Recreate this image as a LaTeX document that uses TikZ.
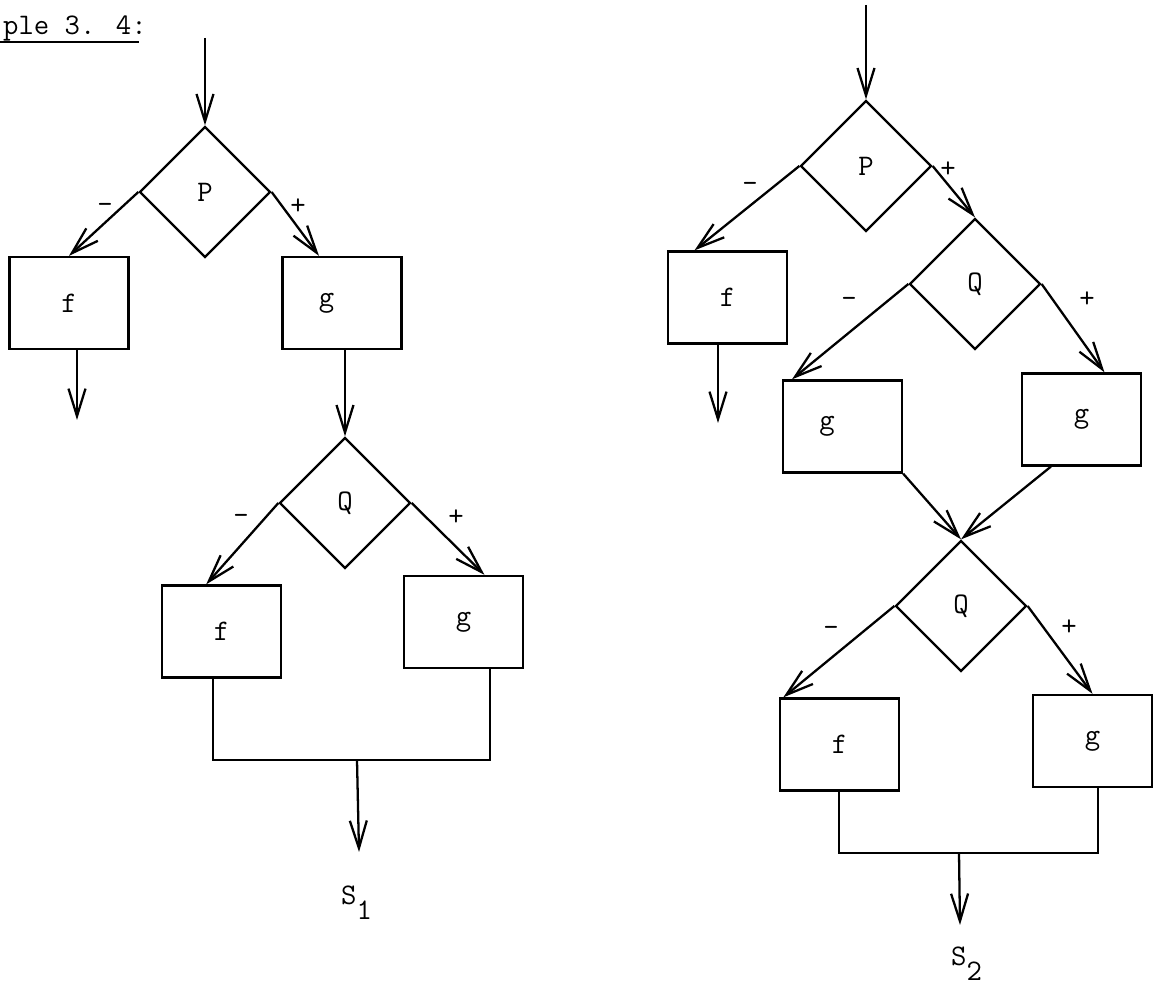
\documentclass[tikz,border=0pt]{standalone}
\usepackage{fontspec}
\usetikzlibrary{shapes.geometric,arrows.meta}

\begin{document}
\begin{tikzpicture}
  [x=0.02cm,y=0.02cm,font=\ttfamily\fontsize{17}{20}\selectfont]
      \tikzstyle{edge_style} = [draw=black, line width=1.3pt]
      \tikzstyle{arrow_style} = [edge_style, -{Straight Barb[length=5.5mm,width=3.4mm]}]
      \tikzstyle{box_style} = [draw=black, line width=1.3pt, rectangle, minimum width=2.38cm, minimum height=1.84cm]
      \tikzstyle{test_style} = [draw=black, line width=1.3pt, diamond, inner sep=0pt, minimum width=2.62cm, minimum height=2.62cm]
  \useasboundingbox (0,0) rectangle (1153,987);

  \node[anchor=base west] (title) at (-3,952) {ple 3. 4:};
  \draw[line width=1pt] ([yshift=-4pt]title.base west) -- ([xshift=-8pt,yshift=-4pt]title.base east);

  % first scheme
  \node[test_style] (p1) at (205,795) {P};
  \node[box_style] (f1) at (69,684) {f};
  \node[box_style] (g1) at (342,684) {g\phantom{gg}};
  \node[test_style] (q1) at (345,484) {Q};
  \node[box_style] (f2) at (221.5,355.5) {f};
  \node[box_style] (g2) at (463.5,365) {g};
  \node (m1) at (105,779) {-};
  \node (pl1) at (298,780) {+};
  \node (m2) at (241,468) {-};
  \node (pl2) at (456,469) {+};
  \node[anchor=base west] (s1) at (335,82) {S\raisebox{-.5em}{1}};
  \coordinate (in1) at (205,949);
  \coordinate (f1end) at (77,567);
  \coordinate (j1a) at (213,227);
  \coordinate (j1b) at (490,227);
  \coordinate (j1) at (357,227);
  \coordinate (s1end) at (359,135);

  \draw[arrow_style] (in1) -- (p1.north);
  \draw[arrow_style] (p1.west) -- (f1.north);
  \draw[arrow_style] (p1.east) -- (g1.116);
  \draw[arrow_style] (f1.south -| f1end) -- (f1end);
  \draw[arrow_style] (g1.south -| q1.north) -- (q1.north);
  \draw[arrow_style] (q1.west) -- (f2.108);
  \draw[arrow_style] (q1.east) -- (g2.66);
  \draw[edge_style] (f2.south -| j1a) -- (j1a) -- (j1b) -- (g2.south -| j1b);
  \draw[arrow_style] (j1) -- (s1end);

  % second scheme
  \node[test_style] (p2) at (866,821) {P};
  \node[box_style] (f3) at (727.5,689.5) {f};
  \node[test_style] (q2) at (975,703) {Q};
  \node[box_style] (g3) at (842.5,560.5) {g\phantom{gg}};
  \node[box_style] (g4) at (1081.5,567.5) {g};
  \node[test_style] (q3) at (961,381) {Q};
  \node[box_style] (f4) at (839.5,242.5) {f};
  \node[box_style] (g5) at (1092.5,246) {g};
  \node (m3) at (750,800) {-};
  \node (pl3) at (948,817) {+};
  \node (m4) at (849,685) {-};
  \node (pl4) at (1087,687) {+};
  \node (m5) at (831,356) {-};
  \node (pl5) at (1069,359) {+};
  \node[anchor=base west] (s2) at (945,21) {S\raisebox{-.5em}{2}};
  \coordinate (in2) at (866,982);
  \coordinate (f3end) at (718,564);
  \coordinate (j2a) at (839,134);
  \coordinate (j2b) at (1098,134);
  \coordinate (j2) at (959,134);
  \coordinate (s2end) at (960,62);

  \draw[arrow_style] (in2) -- (p2.north);
  \draw[arrow_style] (p2.west) -- (f3.125);
  \draw[arrow_style] (p2.east) -- (q2.north);
  \draw[arrow_style] (f3.south -| f3end) -- (f3end);
  \draw[arrow_style] (q2.west) -- (g3.137);
  \draw[arrow_style] (q2.east) -- (g4.64);
  \draw[arrow_style] (g3.south east) -- (q3.north);
  \draw[arrow_style] (g4.237) -- (q3.north);
  \draw[arrow_style] (q3.west) -- (f4.140);
  \draw[arrow_style] (q3.east) -- (g5.north);
  \draw[edge_style] (f4.south -| j2a) -- (j2a) -- (j2b) -- (g5.south -| j2b);
  \draw[arrow_style] (j2) -- (s2end);
\end{tikzpicture}
\end{document}
